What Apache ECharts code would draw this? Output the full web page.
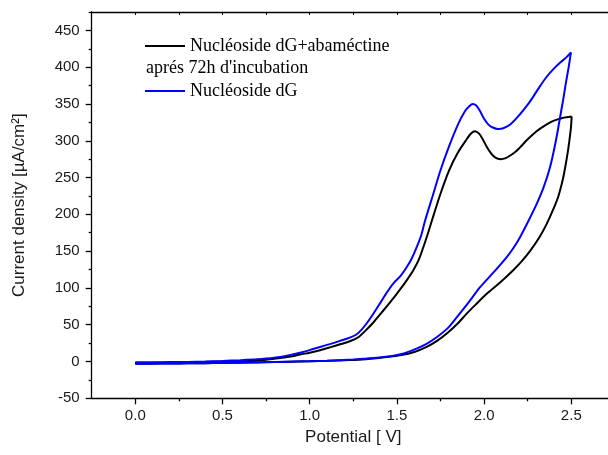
<!DOCTYPE html>
<html>
<head>
<meta charset="utf-8">
<script src="https://cdn.jsdelivr.net/npm/echarts@6/dist/echarts.min.js"></script>
<style>
  html, body { margin: 0; padding: 0; background: #fff; }
  #chart { width: 608px; height: 455px; }
</style>
</head>
<body>
<div id="chart"></div>
<script>
// Cyclic voltammograms: anodic sweep 0 -> 2.5 V, then return sweep 2.5 -> 0 V.

// Nucléoside dG + abaméctine, after 72 h incubation (black)
const abaFwdV = [0.00, 0.10, 0.20, 0.30, 0.40, 0.50, 0.60, 0.70, 0.75, 0.83, 0.90, 0.944, 1.00, 1.059, 1.12, 1.174, 1.23, 1.279, 1.32, 1.365, 1.40, 1.442, 1.48, 1.518, 1.555, 1.594, 1.625, 1.651, 1.675, 1.70, 1.75, 1.80, 1.85, 1.90, 1.925, 1.948, 1.97, 1.99, 2.015, 2.04, 2.065, 2.095, 2.12, 2.15, 2.18, 2.206, 2.25, 2.301, 2.35, 2.397, 2.45, 2.502];
const abaFwdI = [-2, -1.8, -1.5, -1, -0.5, 0, 0.5, 1.5, 2.5, 4.9, 7, 9.5, 12, 15.3, 19.5, 23.4, 27.5, 33, 42, 53, 63, 75, 86, 98, 110, 124, 138, 155, 172, 191, 228, 260, 284, 302, 310, 313, 310, 303, 292, 283, 277, 275, 276, 280, 285, 291, 302, 313, 321, 327, 331, 333];
const abaRevV = [2.502, 2.498, 2.49, 2.48, 2.465, 2.45, 2.425, 2.397, 2.359, 2.32, 2.263, 2.215, 2.167, 2.09, 2.015, 1.95, 1.90, 1.85, 1.786, 1.73, 1.671, 1.60, 1.518, 1.44, 1.365, 1.28, 1.20, 1.10, 1.00, 0.90, 0.80, 0.70, 0.60, 0.50, 0.40, 0.30, 0.20, 0.10, 0.00];
const abaRevI = [333, 318, 302, 285, 264, 246, 224, 207, 187, 170, 150, 136, 124, 107, 92, 77, 65, 52, 38, 28, 19.8, 13, 8.5, 6, 4, 2.5, 1.8, 1, 0.3, -0.3, -0.8, -1.2, -1.6, -2, -2.3, -2.5, -2.7, -2.9, -3];

// Nucléoside dG (blue)
const dgFwdV = [0.00, 0.10, 0.20, 0.30, 0.40, 0.50, 0.60, 0.70, 0.75, 0.83, 0.89, 0.944, 1.00, 1.059, 1.12, 1.174, 1.23, 1.27, 1.30, 1.327, 1.365, 1.403, 1.44, 1.479, 1.52, 1.556, 1.585, 1.613, 1.64, 1.661, 1.709, 1.75, 1.80, 1.85, 1.89, 1.915, 1.935, 1.955, 1.975, 2.00, 2.025, 2.05, 2.08, 2.11, 2.15, 2.206, 2.25, 2.282, 2.32, 2.359, 2.40, 2.435, 2.47, 2.498];
const dgFwdI = [-1, -1, -0.8, -0.5, 0, 0.8, 1.8, 3, 4, 6.3, 9, 12, 15.5, 19.8, 24, 28, 32.5, 37, 44, 52, 65, 79, 93, 106, 116, 128, 140, 155, 172, 191, 228, 260, 293, 322, 340, 347, 350, 348, 341, 330, 322, 318, 316, 317, 322, 336, 349, 360, 374, 387, 398, 406, 413, 420];
const dgRevV = [2.498, 2.485, 2.47, 2.455, 2.435, 2.41, 2.378, 2.34, 2.301, 2.254, 2.206, 2.17, 2.13, 2.05, 1.977, 1.91, 1.843, 1.79, 1.728, 1.67, 1.613, 1.54, 1.46, 1.40, 1.327, 1.25, 1.174, 1.10, 1.00, 0.90, 0.80, 0.70, 0.60, 0.50, 0.40, 0.30, 0.20, 0.10, 0.00];
const dgRevI = [420, 400, 380, 358, 331, 298, 264, 236, 214, 191, 169, 155, 142, 120, 101, 80, 60, 45, 33, 24, 17.6, 11, 7.2, 5.5, 4, 2.8, 1.8, 1, 0.5, 0, -0.5, -1, -1.5, -2, -2.2, -2.5, -2.7, -2.8, -3];

// Axis ticks
const xTicks = [0, 0.5, 1.0, 1.5, 2.0, 2.5];
const xMinorTicks = [0.25, 0.75, 1.25, 1.75, 2.25];
const xTopTicks = [0, 0.25, 0.5, 0.75, 1.0, 1.25, 1.5, 1.75, 2.0, 2.25, 2.5];
const yTicks = [-50, 0, 50, 100, 150, 200, 250, 300, 350, 400, 450];
const yMinorTicks = [-25, 25, 75, 125, 175, 225, 275, 325, 375, 425, 475];

const seriesNames = ['Nucléoside dG+abaméctine', 'Nucléoside dG'];
const legendNote = "aprés 72h d'incubation";

const zip = (xs, ys) => xs.map((x, i) => [x, ys[i]]);

const X_MIN = -0.25, X_MAX = 2.75, Y_MIN = -50, Y_MAX = 475;
const gridBox = { left: 91.7, right: -6.9, top: 12, bottom: 56.7, outerBoundsMode: 'none' };
const axisColor = '#000';
const tickFont = { fontFamily: 'Liberation Sans, Arial, sans-serif', fontSize: 15, color: '#1a1a1a' };

function curve(name, data, color, z) {
  return {
    type: 'line', name, data, xAxisIndex: 0, yAxisIndex: 0,
    symbol: 'none', showSymbol: false, smooth: 0.3,
    lineStyle: { color, width: 2 }, itemStyle: { color }, z, silent: true
  };
}

const chart = echarts.init(document.getElementById('chart'), null, { renderer: 'canvas' });
chart.setOption({
  animation: false,
  backgroundColor: '#fff',
  grid: [Object.assign({}, gridBox), Object.assign({}, gridBox)],
  xAxis: [
    {
      gridIndex: 0, type: 'value', position: 'bottom', min: X_MIN, max: X_MAX,
      name: 'Potential [ V]', nameLocation: 'middle', nameGap: 31,
      nameTextStyle: { fontFamily: 'Liberation Sans, Arial, sans-serif', fontSize: 17, color: '#1a1a1a' },
      axisLine: { onZero: false, lineStyle: { color: axisColor, width: 1.3 } },
      axisTick: { show: true, inside: false, length: 6, customValues: xTicks, lineStyle: { color: axisColor, width: 1.3 } },
      axisLabel: Object.assign({ customValues: xTicks, margin: 10, formatter: v => v.toFixed(1) }, tickFont),
      splitLine: { show: false }
    },
    {
      gridIndex: 1, type: 'value', position: 'bottom', min: X_MIN, max: X_MAX,
      axisLine: { show: false, onZero: false },
      axisTick: { show: true, inside: false, length: 3, customValues: xMinorTicks, lineStyle: { color: axisColor, width: 1.3 } },
      axisLabel: { show: false }, splitLine: { show: false }
    },
    {
      gridIndex: 1, type: 'value', position: 'top', min: X_MIN, max: X_MAX,
      axisLine: { show: true, onZero: false, lineStyle: { color: axisColor, width: 1.3 } },
      axisTick: { show: true, inside: true, length: 3, customValues: xTopTicks, lineStyle: { color: axisColor, width: 1 } },
      axisLabel: { show: false }, splitLine: { show: false }
    }
  ],
  yAxis: [
    {
      gridIndex: 0, type: 'value', position: 'left', min: Y_MIN, max: Y_MAX,
      name: 'Current density [µA/cm²]', nameLocation: 'middle', nameGap: 64, nameRotate: 90,
      nameTextStyle: { fontFamily: 'Liberation Sans, Arial, sans-serif', fontSize: 17, color: '#1a1a1a' },
      axisLine: { show: true, onZero: false, lineStyle: { color: axisColor, width: 1.3 } },
      axisTick: { show: true, inside: false, length: 6, customValues: yTicks, lineStyle: { color: axisColor, width: 1.3 } },
      axisLabel: Object.assign({ customValues: yTicks, margin: 12 }, tickFont),
      splitLine: { show: false }
    },
    {
      gridIndex: 1, type: 'value', position: 'left', min: Y_MIN, max: Y_MAX,
      axisLine: { show: false, onZero: false },
      axisTick: { show: true, inside: false, length: 3, customValues: yMinorTicks, lineStyle: { color: axisColor, width: 1.3 } },
      axisLabel: { show: false }, splitLine: { show: false }
    }
  ],
  legend: {
    data: seriesNames,
    orient: 'vertical', left: 145, top: 35, padding: 0,
    icon: 'rect', itemWidth: 40, itemHeight: 2, itemGap: 23,
    selectedMode: false,
    textStyle: { fontFamily: 'Liberation Serif, Times New Roman, serif', fontSize: 18, color: '#000', lineHeight: 22 }
  },
  graphic: [{
    type: 'text', left: 146, top: 59,
    style: { text: legendNote, font: '18px "Liberation Serif", "Times New Roman", serif', fill: '#000' }
  }],
  series: [
    curve(seriesNames[0], zip(abaFwdV, abaFwdI), '#000000', 2),
    curve(seriesNames[0], zip(abaRevV, abaRevI), '#000000', 2),
    curve(seriesNames[1], zip(dgFwdV, dgFwdI), '#0000ff', 3),
    curve(seriesNames[1], zip(dgRevV, dgRevI), '#0000ff', 3)
  ]
});
</script>
</body>
</html>
